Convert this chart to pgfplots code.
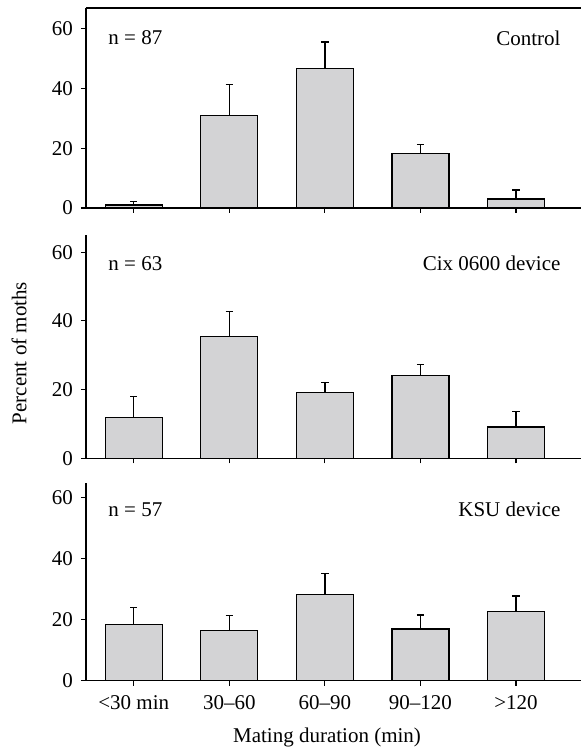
\documentclass[border=0pt]{standalone}
\usepackage{fontspec}
\setmainfont{Liberation Serif}
\usepackage{pgfplots}
\usepackage{pgfplotstable}
\pgfplotsset{compat=1.18}
\definecolor{barfill}{RGB}{211,211,213}
\pgfplotstableread{
x y err
0 1.0 1.1
1 31.0 10.3
2 46.8 8.8
3 18.2 3.1
4 3.0 3.0
}\controltab
\pgfplotstableread{
x y err
0 11.9 6.2
1 35.5 7.2
2 19.1 2.9
3 24.2 3.2
4 9.1 4.5
}\cixtab
\pgfplotstableread{
x y err
0 18.5 5.4
1 16.4 5.0
2 28.1 7.0
3 16.9 4.6
4 22.6 5.1
}\ksutab
\begin{document}
\fontsize{21}{24}\selectfont
\begin{tikzpicture}[x=1pt,y=1pt]
\useasboundingbox (0pt,0pt) rectangle (581pt,748pt);
\pgfplotsset{
 panel/.style={
  scale only axis, width=495pt, xmin=-0.5, xmax=4.68, ymin=0,
  axis lines=left, axis line style={-, line width=1.3pt},
  xtick={0,1,2,3,4}, ytick={0,20,40,60},
  tick align=outside, major tick length=5pt,
  tick style={line width=1.1pt, black},
  xticklabels={},
  /pgf/number format/assume math mode=true,
  font=\fontsize{21}{24}\selectfont,
  xticklabel style={yshift=-3pt},
  yticklabel style={xshift=-1pt},
  ybar, bar width=57pt, clip=false,
  anchor=south west,
 },
 barplot/.style={fill=barfill, draw=black, line width=1.3pt,
  error bars/.cd, y dir=plus, y explicit,
  error bar style={line width=1.2pt, black},
  error mark options={rotate=90, mark size=3.6pt, line width=1.2pt, black}},
}
% top panel
\begin{axis}[panel, at={(86pt,540pt)}, height=200pt, ymax=67]
\addplot[barplot] table[x=x, y=y, y error=err]{\controltab};
\draw[line width=1.3pt] (rel axis cs:0,1) -- (rel axis cs:1,1);
\node[anchor=west] at (axis cs:-0.34,57) {n = 87};
\node[anchor=east] at (axis cs:4.54,57) {Control};
\end{axis}
% middle panel
\begin{axis}[panel, at={(86pt,289.7pt)}, height=223.3pt, ymax=65]
\addplot[barplot] table[x=x, y=y, y error=err]{\cixtab};
\node[anchor=west] at (axis cs:-0.34,56.8) {n = 63};
\node[anchor=east] at (axis cs:4.54,56.8) {Cix 0600 device};
\end{axis}
% bottom panel
\begin{axis}[panel, at={(86pt,67.3pt)}, height=198pt, ymax=64.8,
  xticklabels={{<30 min},{30--60},{60--90},{90--120},{>120}}]
\addplot[barplot] table[x=x, y=y, y error=err]{\ksutab};
\node[anchor=west] at (axis cs:-0.34,56.1) {n = 57};
\node[anchor=east] at (axis cs:4.54,56.1) {KSU device};
\end{axis}
\node[rotate=90] at (19pt,395pt) {Percent of moths};
\node at (327pt,11pt) {Mating duration (min)};
\end{tikzpicture}
\end{document}
